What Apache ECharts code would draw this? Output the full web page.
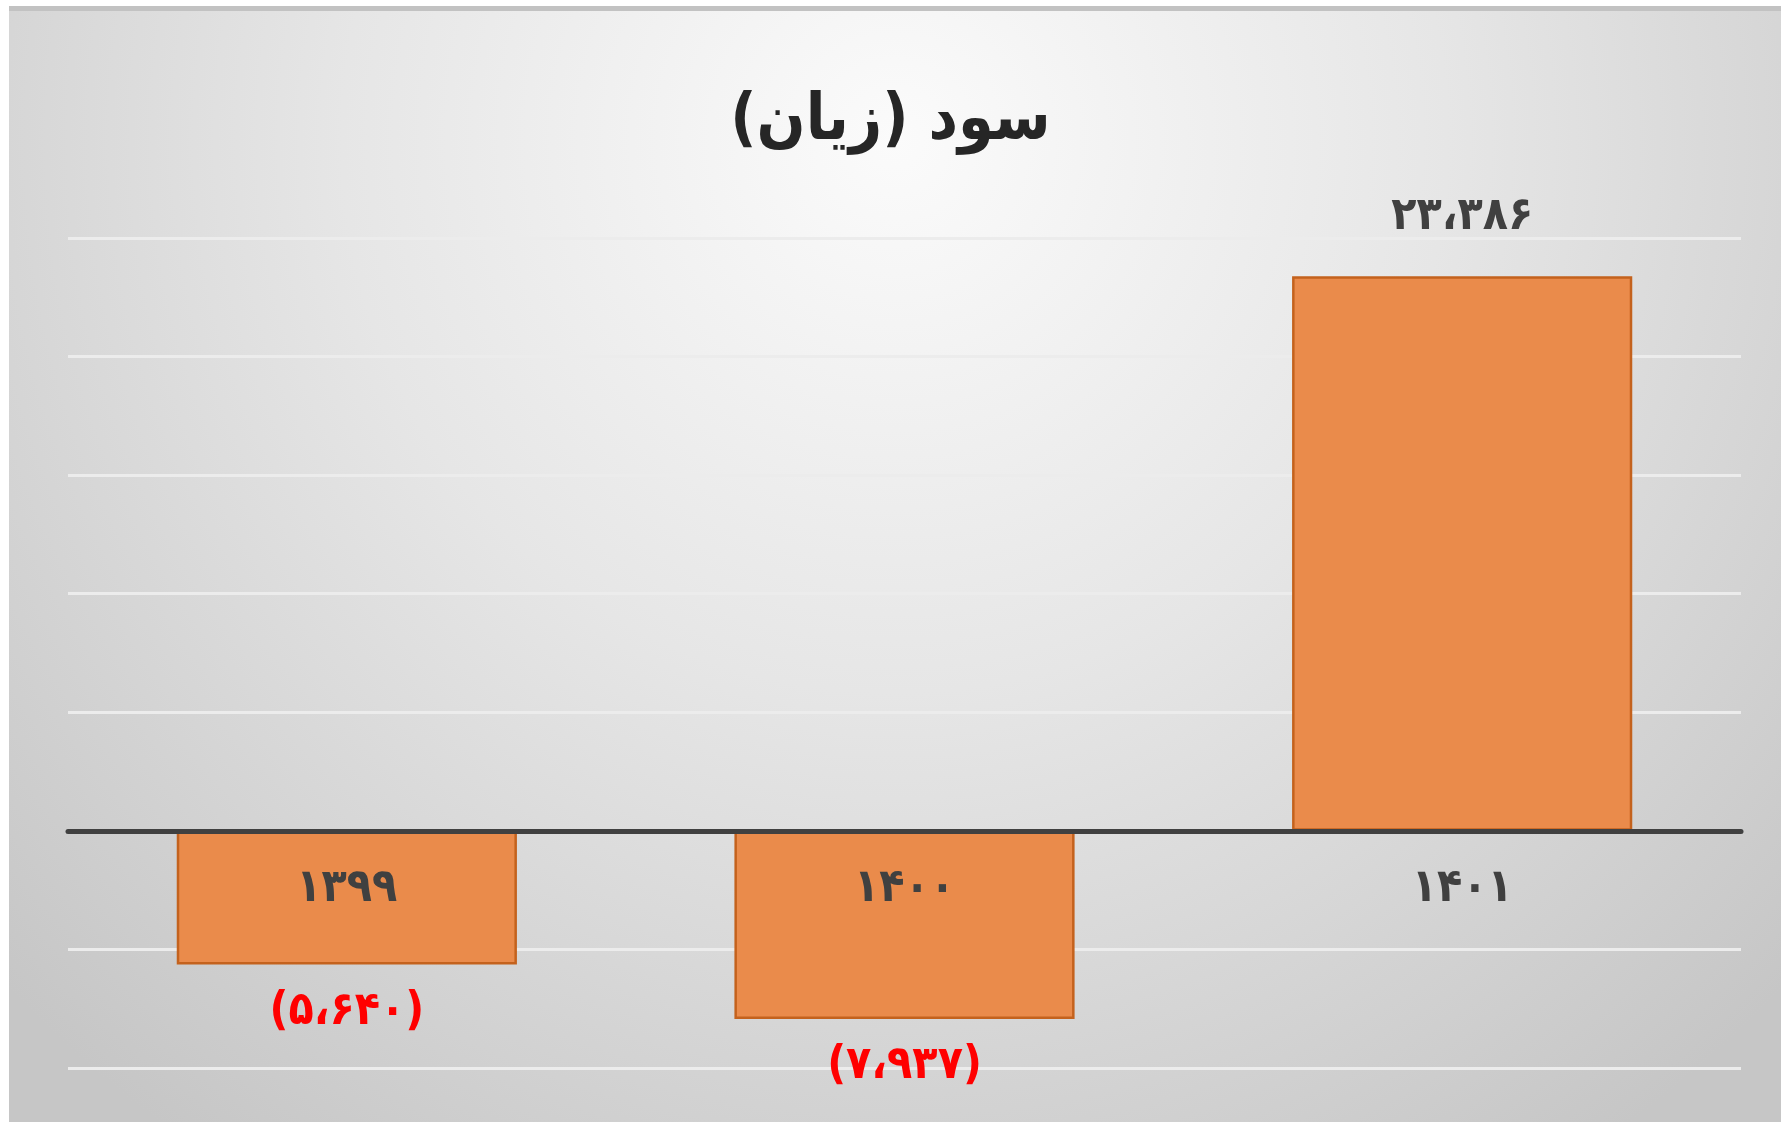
<!DOCTYPE html>
<html><head><meta charset="utf-8">
<script src="https://cdn.jsdelivr.net/npm/echarts@6/dist/echarts.min.js"></script>
<style>html,body{margin:0;padding:0;background:#fff}#c{width:1781px;height:1122px}</style>
</head><body><div id="c"></div>
<script>
const titleText = 'سود (زیان)';
const categories = ['۱۳۹۹', '۱۴۰۰', '۱۴۰۱'];
const profitValues = [-5640, -7937, 23386];
const axisMin = -10000, axisMax = 25000, axisInterval = 5000;

function toFa(n){
  const s = Math.abs(n).toString().replace(/\B(?=(\d{3})+(?!\d))/g, '،');
  const fa = s.replace(/\d/g, d => '۰۱۲۳۴۵۶۷۸۹'[+d]);
  return n < 0 ? '(' + fa + ')' : fa;
}

const FONT = 'DejaVu Sans Condensed';
const chart = echarts.init(document.getElementById('c'));
chart.setOption({
  backgroundColor: '#ffffff',
  animation: false,
  graphic: [{
    type: 'rect', z: -100, silent: true,
    shape: {x: 9, y: 6, width: 1772, height: 1116},
    style: {
      fill: {type: 'radial', x: 0.5, y: 0.12, r: 1.1,
        colorStops: [{offset: 0, color: '#fbfbfb'}, {offset: 0.45, color: '#e6e6e6'}, {offset: 1, color: '#c6c6c6'}]}
    }
  }, {
    type: 'rect', z: -99, silent: true,
    shape: {x: 9, y: 6, width: 1772, height: 5},
    style: {fill: '#c2c2c2'}
  }],
  title: {
    text: '\u200F' + titleText + '\u200F',
    left: 'center', top: 85,
    textStyle: {fontFamily: FONT, fontWeight: 'bold', fontSize: 64, color: '#262626'}
  },
  grid: {left: 68, right: 40, top: 238, bottom: 54, containLabel: false, outerBoundsMode: 'none'},
  xAxis: {
    type: 'category', data: categories, z: 10,
    axisTick: {show: false},
    axisLine: {show: true, onZero: true, lineStyle: {color: '#404040', width: 5}},
    axisLabel: {fontFamily: FONT, fontWeight: 'bold', fontSize: 46, color: '#404040', margin: -202}
  },
  yAxis: {
    type: 'value', min: axisMin, max: axisMax, interval: axisInterval,
    axisLabel: {show: false}, axisLine: {show: false}, axisTick: {show: false},
    splitLine: {lineStyle: {color: '#ececec', width: 3}}
  },
  series: [{
    type: 'bar', barWidth: '61%',
    data: profitValues.map(v => ({
      value: v,
      label: {
        position: v < 0 ? 'bottom' : 'top',
        distance: v < 0 ? 24 : 36,
        color: v < 0 ? '#ff0000' : '#404040'
      }
    })),
    itemStyle: {color: '#ea8b4b', borderColor: '#c4621d', borderWidth: 2.5},
    label: {show: true, fontFamily: FONT, fontWeight: 'bold', fontSize: 46, formatter: p => toFa(p.value)}
  }]
});
</script></body></html>
